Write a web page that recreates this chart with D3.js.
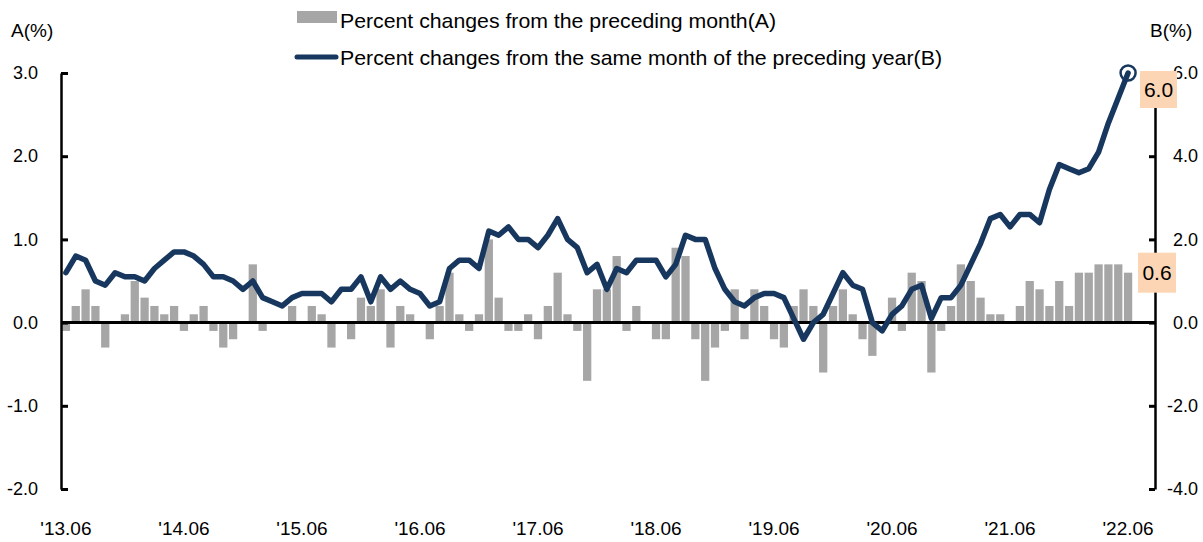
<!DOCTYPE html>
<html><head><meta charset="utf-8">
<script src="https://cdn.jsdelivr.net/npm/d3@7"></script>
<style>
html,body{margin:0;padding:0;background:#fff;}
text{font-family:"Liberation Sans Narrow","Arial Narrow","Liberation Sans",sans-serif;fill:#000;}
</style></head>
<body><svg id="chart" width="1203" height="542"></svg>
<script>
// months from 2013.06 to 2022.06
const startYear = 2013, startMonth = 6, monthCount = 109;
const months = d3.range(monthCount).map(i => {
  const t = (startMonth - 1) + i;
  return (startYear + Math.floor(t / 12)) + "." + String(t % 12 + 1).padStart(2, "0");
});
// A: percent changes from the preceding month (left axis)
const momA = [
  -0.1, 0.2, 0.4, 0.2, -0.3, 0.0, 0.1,
  0.5, 0.3, 0.2, 0.1, 0.2, -0.1, 0.1, 0.2, -0.1, -0.3, -0.2, 0.0,
  0.7, -0.1, 0.0, 0.0, 0.2, 0.0, 0.2, 0.1, -0.3, 0.0, -0.2, 0.3,
  0.2, 0.4, -0.3, 0.2, 0.1, 0.0, -0.2, 0.2, 0.6, 0.1, -0.1, 0.1,
  1.0, 0.3, -0.1, -0.1, 0.1, -0.2, 0.2, 0.6, 0.1, -0.1, -0.7, 0.4,
  0.4, 0.8, -0.1, 0.2, 0.0, -0.2, -0.2, 0.9, 0.8, -0.2, -0.7, -0.3,
  -0.1, 0.4, -0.2, 0.4, 0.2, -0.2, -0.3, 0.2, 0.4, 0.2, -0.6, 0.2,
  0.4, 0.1, -0.2, -0.4, 0.0, 0.3, -0.1, 0.6, 0.5, -0.6, -0.1, 0.2,
  0.7, 0.5, 0.3, 0.1, 0.1, 0.0, 0.2, 0.5, 0.4, 0.2, 0.5, 0.2,
  0.6, 0.6, 0.7, 0.7, 0.7, 0.6
];
// B: percent changes from the same month of the preceding year (right axis)
const yoyB = [
  1.2, 1.6, 1.5, 1.0, 0.9, 1.2, 1.1,
  1.1, 1.0, 1.3, 1.5, 1.7, 1.7, 1.6, 1.4, 1.1, 1.1, 1.0, 0.8,
  1.0, 0.6, 0.5, 0.4, 0.6, 0.7, 0.7, 0.7, 0.5, 0.8, 0.8, 1.1,
  0.5, 1.1, 0.8, 1.0, 0.8, 0.7, 0.4, 0.5, 1.3, 1.5, 1.5, 1.3,
  2.2, 2.1, 2.3, 2.0, 2.0, 1.8, 2.1, 2.5, 2.0, 1.8, 1.2, 1.4,
  0.8, 1.3, 1.2, 1.5, 1.5, 1.5, 1.1, 1.4, 2.1, 2.0, 2.0, 1.3,
  0.8, 0.5, 0.4, 0.6, 0.7, 0.7, 0.6, 0.1, -0.4, 0.0, 0.2, 0.7,
  1.2, 0.9, 0.8, 0.0, -0.2, 0.2, 0.4, 0.8, 0.9, 0.1, 0.6, 0.6,
  0.9, 1.4, 1.9, 2.5, 2.6, 2.3, 2.6, 2.6, 2.4, 3.2, 3.8, 3.7,
  3.6, 3.7, 4.1, 4.8, 5.4, 6.0
];
const leftTicks = [-2, -1, 0, 1, 2, 3];
const rightTicks = [-4, -2, 0, 2, 4, 6];
const xTickMonths = months.filter(m => m.endsWith(".06"));
const legendLabels = ["Percent changes from the preceding month(A)", "Percent changes from the same month  of the preceding year(B)"];

const barColor = "#a6a6a6", lineColor = "#17375e", boxColor = "#fcd5b4";
const fmt = d => d.toFixed(1);
const svg = d3.select("#chart");
const axisLeftX = 61, axisRightX = 1155;
const x = d3.scaleBand().domain(months).range([61, 1133]).paddingInner(0.16).paddingOuter(0.08);
const yA = d3.scaleLinear().domain([-2, 3]).range([489, 73]);
const yB = d3.scaleLinear().domain([-4, 6]).range([489, 73]);
const cx = m => x(m) + x.bandwidth() / 2;

// bars
svg.append("g").selectAll("rect").data(months).join("rect")
  .attr("x", m => x(m))
  .attr("width", x.bandwidth())
  .attr("y", (m, i) => yA(Math.max(0, momA[i])))
  .attr("height", (m, i) => Math.abs(yA(momA[i]) - yA(0)))
  .attr("fill", barColor);

// zero line
svg.append("line").attr("x1", axisLeftX).attr("x2", axisRightX)
  .attr("y1", yA(0)).attr("y2", yA(0)).attr("stroke", "#000").attr("stroke-width", 3);

// left axis
const gL = svg.append("g").attr("transform", `translate(${axisLeftX},0)`)
  .call(d3.axisLeft(yA).tickValues(leftTicks).tickFormat(fmt).tickSizeInner(-7).tickSizeOuter(0).tickPadding(23));
gL.select(".domain").attr("stroke-width", 2.5);
gL.selectAll(".tick line").attr("stroke-width", 3);
gL.selectAll("text").attr("font-size", 18).attr("font-family", null);

// right axis
const gR = svg.append("g").attr("transform", `translate(${axisRightX},0)`)
  .call(d3.axisRight(yB).tickValues(rightTicks).tickFormat(fmt).tickSizeInner(-6).tickSizeOuter(0).tickPadding(43));
gR.select(".domain").attr("stroke-width", 2.5);
gR.selectAll(".tick line").attr("stroke-width", 3);
gR.selectAll("text").attr("font-size", 18).attr("font-family", null).attr("text-anchor", "end");

// x labels
const gX = svg.append("g").attr("transform", "translate(0,528)")
  .call(d3.axisBottom(x).tickValues(xTickMonths).tickFormat(m => "'" + m.slice(2)).tickSize(0).tickPadding(0));
gX.select(".domain").remove();
gX.selectAll("text").attr("font-size", 19).attr("font-family", null).attr("dy", "0.35em");

// line
svg.append("path").datum(yoyB)
  .attr("fill", "none").attr("stroke", lineColor).attr("stroke-width", 5.5)
  .attr("stroke-linejoin", "round").attr("stroke-linecap", "round")
  .attr("d", d3.line().x((d, i) => cx(months[i])).y(d => yB(d)));

// last point marker
const lastM = months[monthCount - 1], lastA = momA[monthCount - 1], lastB = yoyB[monthCount - 1];
svg.append("circle").attr("cx", cx(lastM)).attr("cy", yB(lastB)).attr("r", 7.5)
  .attr("fill", "none").attr("stroke", lineColor).attr("stroke-width", 2.5);

// value boxes
const bY = yB(lastB);
svg.append("rect").attr("x", 1140).attr("y", bY - 2).attr("width", 37).attr("height", 37).attr("fill", boxColor);
svg.append("text").attr("x", 1158.5).attr("y", bY + 17).attr("dy", "0.35em").attr("text-anchor", "middle")
  .attr("font-size", 21).text(fmt(lastB));
const aY = yA(lastA);
svg.append("rect").attr("x", 1138).attr("y", aY - 20).attr("width", 38).attr("height", 40).attr("fill", boxColor);
svg.append("text").attr("x", 1157).attr("y", aY).attr("dy", "0.35em").attr("text-anchor", "middle")
  .attr("font-size", 21).text(fmt(lastA));

// axis titles
svg.append("text").attr("x", 11).attr("y", 37).attr("font-size", 19).text("A(%)");
svg.append("text").attr("x", 1150).attr("y", 37).attr("font-size", 19).text("B(%)");

// legend
svg.append("rect").attr("x", 297).attr("y", 11).attr("width", 40).attr("height", 12).attr("fill", barColor);
svg.append("line").attr("x1", 297).attr("x2", 336).attr("y1", 57).attr("y2", 57)
  .attr("stroke", lineColor).attr("stroke-width", 5).attr("stroke-linecap", "round");
svg.append("text").attr("x", 340).attr("y", 28).attr("font-size", 21)
  .attr("textLength", 436).attr("lengthAdjust", "spacingAndGlyphs").text(legendLabels[0]);
svg.append("text").attr("x", 340).attr("y", 65).attr("font-size", 21)
  .attr("textLength", 602).attr("lengthAdjust", "spacingAndGlyphs").text(legendLabels[1]);
</script></body></html>
